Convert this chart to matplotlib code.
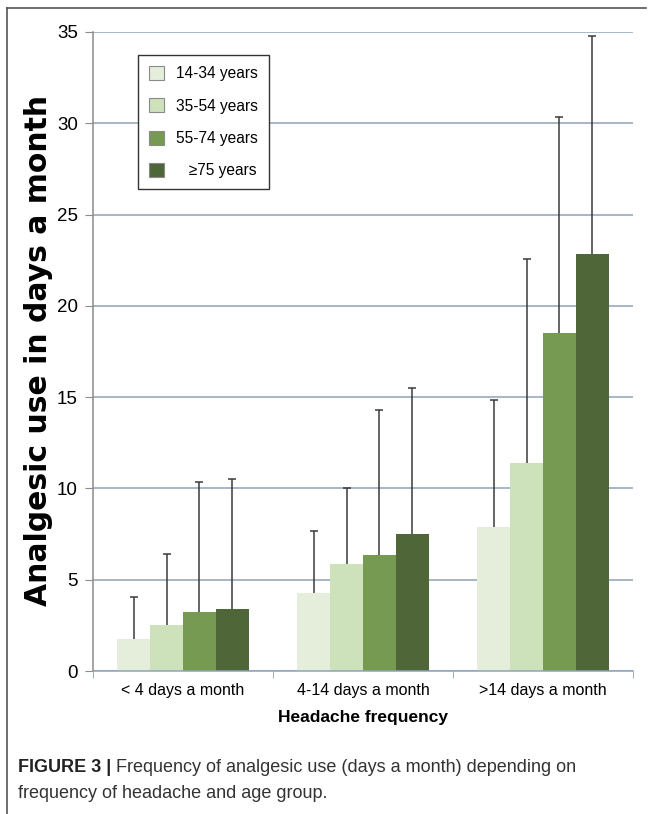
"""Analgesic use by headache frequency and age group (bar chart with SD whiskers)."""

import matplotlib

matplotlib.use("Agg")
import numpy as np
from matplotlib import pyplot as plt
from matplotlib.lines import Line2D
from matplotlib.patches import Patch

# --- data -------------------------------------------------------------------
frequencies = ["< 4 days a month", "4-14 days a month", ">14 days a month"]
age_groups = ["14-34 years", "35-54 years", "55-74 years", "\u226575 years"]

mean_14_34 = [1.74, 4.25, 7.90]
mean_35_54 = [2.52, 5.86, 11.41]
mean_55_74 = [3.21, 6.34, 18.49]
mean_75 = [3.38, 7.50, 22.82]

sd_14_34 = [2.30, 3.43, 6.94]
sd_35_54 = [3.87, 4.16, 11.14]
sd_55_74 = [7.14, 7.95, 11.85]
sd_75 = [7.13, 8.00, 11.97]

y_ticks = [0, 5, 10, 15, 20, 25, 30, 35]

means = [mean_14_34, mean_35_54, mean_55_74, mean_75]
sds = [sd_14_34, sd_35_54, sd_55_74, sd_75]
colors = ["#e4eedb", "#cde2bb", "#779a52", "#4f6638"]

plt.rcParams["font.family"] = ["Liberation Sans", "DejaVu Sans"]

W, H = 654, 814
fig = plt.figure(figsize=(W / 100, H / 100), dpi=100)
ax = fig.add_axes([93 / W, (H - 671) / H, 540 / W, 639 / H])

x = np.arange(len(frequencies))
width = 0.182
for i, (vals, err, col) in enumerate(zip(means, sds, colors)):
    pos = x + (i - 1.5) * width
    ax.bar(pos, vals, width, color=col, edgecolor="none", zorder=2)
    _, caps, _ = ax.errorbar(pos, vals, yerr=[np.zeros(len(err)), err], fmt="none",
                             ecolor="#3a3a3a", elinewidth=1.1, capsize=3,
                             capthick=1.1, zorder=3)
    # only the upper whisker carries a cap
    caps[0].remove()

ax.set_xlim(-0.5, 2.5)
ax.set_ylim(0, 35)
ax.set_yticks(y_ticks)
ax.set_yticklabels([str(t) for t in y_ticks], fontsize=13.5)
ax.yaxis.grid(True, color="#8ea3b8", linewidth=1.1, zorder=0)
ax.set_axisbelow(True)

ax.set_xticks(x)
ax.set_xticklabels(frequencies, fontsize=11.5)
ax.set_xticks([-0.5, 0.5, 1.5, 2.5], minor=True)
ax.tick_params(axis="x", which="major", length=0, pad=9)
ax.tick_params(axis="x", which="minor", length=5, color="#8ea3b8", direction="out")
ax.tick_params(axis="y", length=6, color="#8c8c8c", direction="out", pad=5)

for side in ("top", "right"):
    ax.spines[side].set_visible(False)
ax.spines["left"].set_color("#8c8c8c")
ax.spines["bottom"].set_color("#8ea3b8")
ax.spines["left"].set_linewidth(1.1)
ax.spines["bottom"].set_linewidth(1.1)

ax.set_ylabel("Analgesic use in days a month", fontsize=21.5, fontweight="bold",
              family="DejaVu Sans")
ax.yaxis.set_label_coords(-40 / 540, 0.5 + (671 - 350 - 319.5) / 639)
ax.set_xlabel("Headache frequency", fontsize=12.5, fontweight="bold", labelpad=8)

handles = [Patch(facecolor=c, edgecolor="#8a8a8a", linewidth=0.8) for c in colors]
labels = age_groups[:3] + ["   " + age_groups[3]]
fig.legend(handles, labels, loc="upper left", bbox_to_anchor=(138 / W, 1 - 55 / H),
           prop={"size": 11.2}, frameon=True, fancybox=False,
           edgecolor="#333333", framealpha=1, handlelength=1.0, handleheight=1.0,
           labelspacing=1.1, handletextpad=0.75, borderpad=0.7, borderaxespad=0)

# figure frame (left and top rules)
fig.add_artist(Line2D([7 / W, 7 / W], [0, 1 - 8 / H], transform=fig.transFigure,
                      color="#555555", linewidth=1.2))
fig.add_artist(Line2D([7 / W, 646 / W], [1 - 8 / H, 1 - 8 / H], transform=fig.transFigure,
                      color="#555555", linewidth=1.2))

# caption
renderer = fig.canvas.get_renderer()
bold = fig.text(18 / W, 1 - 772 / H, "FIGURE 3 |", fontsize=13, fontweight="bold",
                color="#222222", va="baseline")
bb = bold.get_window_extent(renderer)
fig.text(bb.x1 / W + 5 / W, 1 - 772 / H,
         "Frequency of analgesic use (days a month) depending on",
         fontsize=13, color="#333333", va="baseline")
fig.text(18 / W, 1 - 798 / H, "frequency of headache and age group.",
         fontsize=13, color="#333333", va="baseline")

fig.savefig("out.png", dpi=100)
plt.close(fig)
